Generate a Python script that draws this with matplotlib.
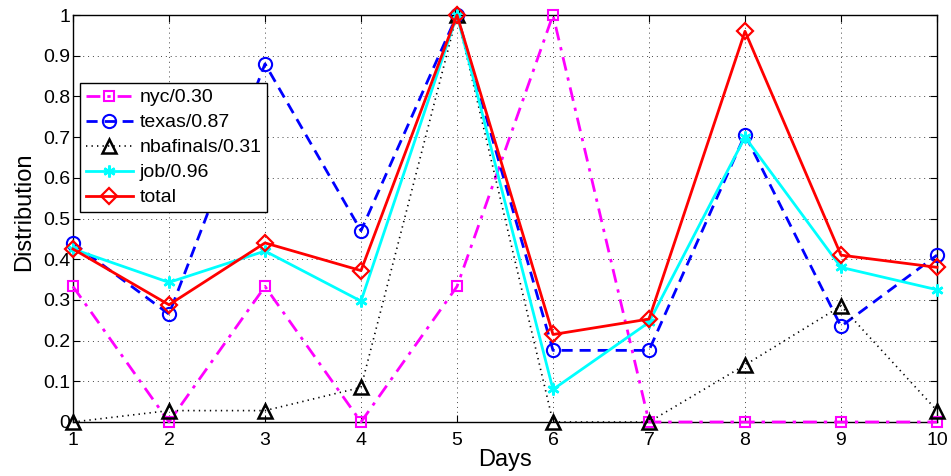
import matplotlib
matplotlib.use("Agg")
import matplotlib.pyplot as plt

plt.rcParams['font.family'] = ['Liberation Sans', 'DejaVu Sans']

days = [1, 2, 3, 4, 5, 6, 7, 8, 9, 10]
nyc = [0.333, 0.0, 0.333, 0.0, 0.333, 1.0, 0.0, 0.0, 0.0, 0.0]
texas = [0.44, 0.265, 0.88, 0.47, 1.0, 0.176, 0.176, 0.706, 0.235, 0.41]
nbafinals = [0.0, 0.028, 0.028, 0.085, 1.0, 0.0, 0.0, 0.14, 0.285, 0.028]
job = [0.425, 0.343, 0.42, 0.297, 1.0, 0.08, 0.245, 0.70, 0.38, 0.325]
total = [0.425, 0.288, 0.44, 0.372, 1.0, 0.215, 0.253, 0.96, 0.41, 0.38]

labels = ['nyc/0.30', 'texas/0.87', 'nbafinals/0.31', 'job/0.96', 'total']
yticks = [0, 0.1, 0.2, 0.3, 0.4, 0.5, 0.6, 0.7, 0.8, 0.9, 1]
ytick_labels = ['0', '0.1', '0.2', '0.3', '0.4', '0.5', '0.6', '0.7', '0.8', '0.9', '1']

fig = plt.figure(figsize=(9.51, 4.76), dpi=100)
ax = fig.add_axes([73 / 951, 1 - 422 / 476, (937 - 73) / 951, (422 - 15) / 476])

lw = 2.0
ms = 9.5
ax.plot(days, nyc, color='#ff00ff', linestyle=(0, (5, 2.5, 1.2, 2.5)), lw=lw,
        marker='s', ms=ms * 0.8, mfc='none', mec='#ff00ff', mew=1.5, label=labels[0], clip_on=False, zorder=3)
ax.plot(days, texas, color='#0000ff', linestyle=(0, (4, 2.5)), lw=lw,
        marker='o', ms=ms, mfc='none', mec='#0000ff', mew=1.5, label=labels[1], clip_on=False, zorder=3)
ax.plot(days, nbafinals, color='black', linestyle=(0, (0.8, 2.5)), lw=1.2,
        marker='^', ms=ms * 1.05, mfc='none', mec='black', mew=1.8, label=labels[2], clip_on=False, zorder=3)
ax.plot(days, job, color='#00ffff', linestyle='-', lw=lw,
        marker=(6, 2, 0), ms=ms * 0.9, mfc='#00ffff', mec='#00ffff', mew=1.8, label=labels[3], clip_on=False, zorder=3)
ax.plot(days, total, color='#ff0000', linestyle='-', lw=lw,
        marker='D', ms=ms * 0.85, mfc='none', mec='#ff0000', mew=1.6, label=labels[4], clip_on=False, zorder=4)

ax.set_xlim(1, 10)
ax.set_ylim(0, 1)
ax.set_xticks(days)
ax.set_xticklabels([str(d) for d in days])
ax.set_yticks(yticks)
ax.set_yticklabels(ytick_labels)
ax.tick_params(direction='in', length=5, width=0.8, labelsize=14, top=True, right=True, pad=2)
ax.tick_params(axis='x', pad=7)
ax.grid(True, color='#444444', linestyle=(0, (1, 4)), linewidth=0.7)
for s in ax.spines.values():
    s.set_linewidth(1.0)

ax.set_xlabel('Days', fontsize=17, labelpad=0)
ax.set_ylabel('Distribution', fontsize=17)
ax.yaxis.set_label_coords(-0.044, 0.517)

leg = ax.legend(loc='upper left', bbox_to_anchor=(7 / 864, 1 - 68 / 407), fontsize=14,
                frameon=True, fancybox=False, edgecolor='black', framealpha=1,
                handlelength=2.4, borderpad=0.3, labelspacing=0.38, handletextpad=0.35,
                borderaxespad=0)
leg.get_frame().set_linewidth(1.0)

fig.savefig('out.png', dpi=100)
